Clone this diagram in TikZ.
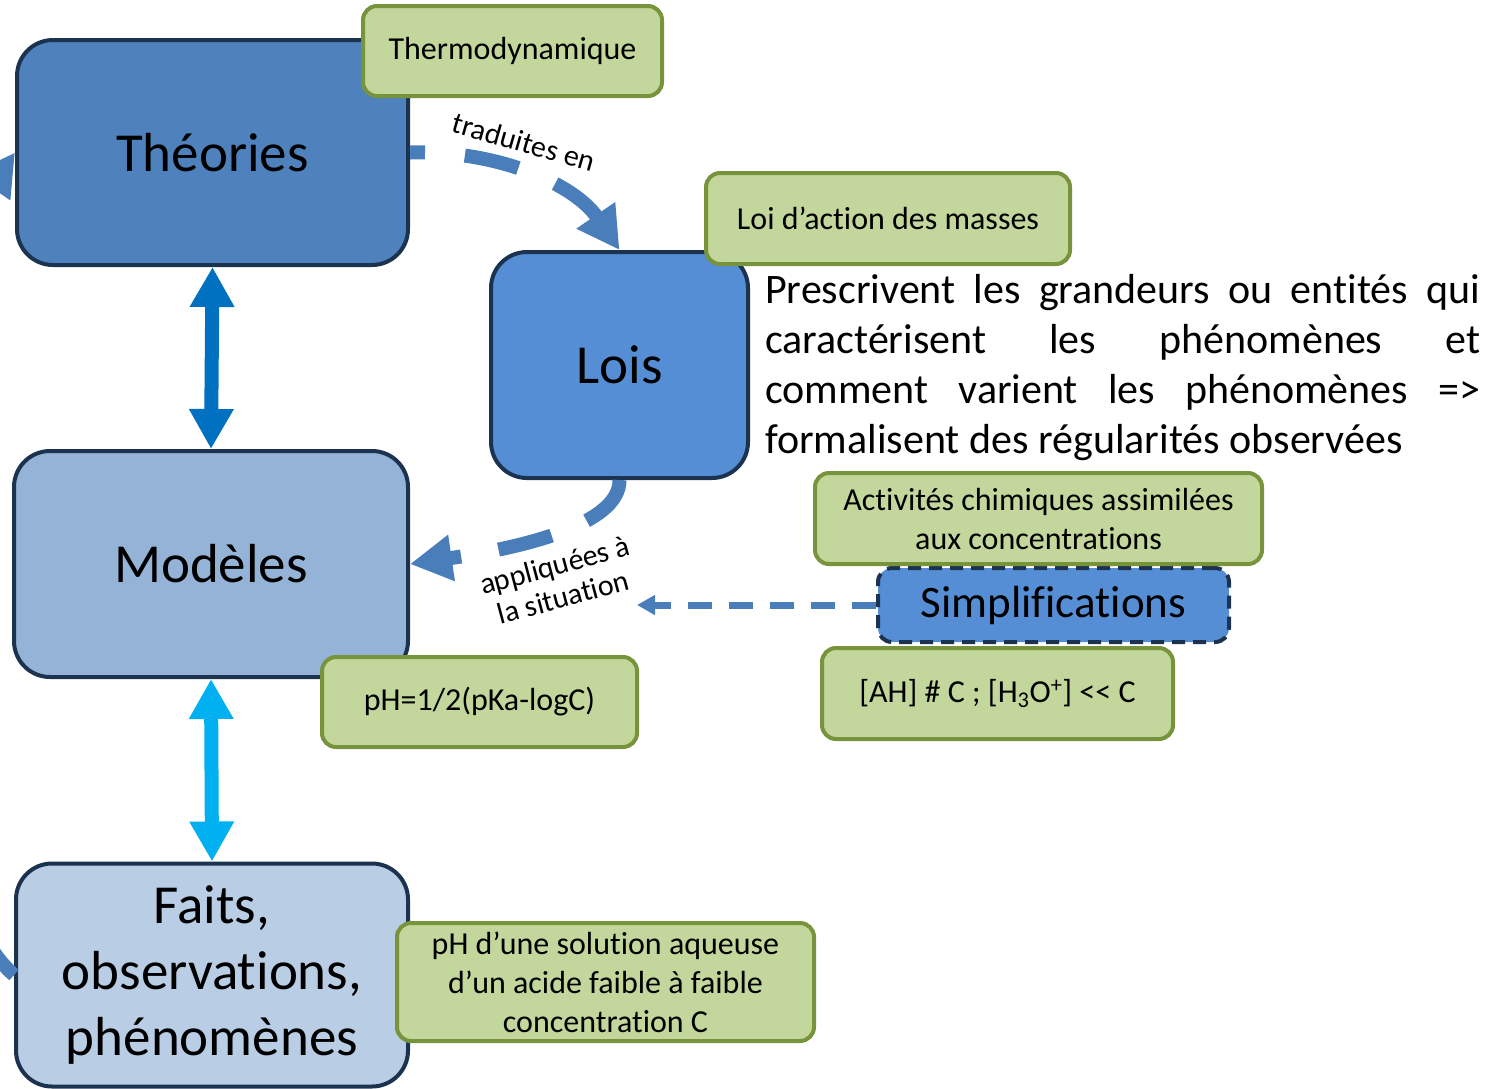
\documentclass[tikz,border=0pt]{standalone}
\usepackage{fontspec}
\setmainfont{Carlito}[Ligatures=NoCommon]
\usetikzlibrary{arrows.meta}
\definecolor{theofill}{HTML}{4F81BD}
\definecolor{loisfill}{HTML}{558ED5}
\definecolor{modfill}{HTML}{95B3D7}
\definecolor{faitsfill}{HTML}{B9CDE5}
\definecolor{boxline}{HTML}{1C3350}
\definecolor{tagfill}{HTML}{C3D69B}
\definecolor{tagline}{HTML}{77933C}
\definecolor{flowcol}{HTML}{4A7EBB}
\definecolor{linkdark}{HTML}{0070C0}
\definecolor{linklight}{HTML}{00B0F0}
\newcommand*{\bigtxt}{\fontsize{55}{66}\selectfont}
\newcommand*{\tagtxt}{\fontsize{32}{39}\selectfont}
\newcommand*{\fullline}[1]{\makebox[715pt][s]{#1}}

\begin{document}
\begin{tikzpicture}[x=1pt,y=-1pt,
        bigbox/.style={draw=boxline,line width=4pt,rounded corners=36pt,font=\bigtxt,align=center,inner sep=0pt},
        tag/.style={draw=tagline,fill=tagfill,line width=4pt,rounded corners=14pt,font=\tagtxt,align=center,inner sep=0pt},
        flow/.style={draw=flowcol,line width=14pt,-{Triangle[length=42pt,width=44pt]}},
        twoway/.style={line width=14pt,{Triangle[length=40pt,width=42pt]}-{Triangle[length=40pt,width=42pt]}},
        lbl/.style={font=\fontsize{30}{33}\selectfont,align=center,inner sep=0pt}]
                \useasboundingbox (0,0) rectangle (1488,1088);
                \clip (0,0) rectangle (1488,1088);

                \node[bigbox,fill=theofill,minimum width=391pt,minimum height=225pt] (theo) at (212.5,152.5) {Théories};
                \node[tag,minimum width=299pt,minimum height=90pt] (thermo) at (512.5,51) {Thermodynamique};

                \node[bigbox,fill=loisfill,minimum width=257pt,minimum height=226pt] (lois) at (619.5,365) {Lois};
                \node[tag,minimum width=364pt,minimum height=91pt] (loi) at (888,218.5) {Loi d’action des masses};

                \node[anchor=north west,inner sep=0pt,text width=715pt,align=left,font=\fontsize{42}{50}\selectfont] (para) at (765,274)
                    {\spaceskip=0pt\xspaceskip=0pt
                     \fullline{Prescrivent les grandeurs ou entités qui}\\
                     \fullline{caractérisent les phénomènes et}\\
                     \fullline{comment varient les phénomènes =>}\\
                     formalisent des régularités observées};

                \node[bigbox,fill=modfill,minimum width=394pt,minimum height=226pt] (mod) at (211,564) {Modèles};
                \node[tag,minimum width=315pt,minimum height=90pt] (pha) at (479.5,702) {pH=1/2(pKa-logC)};

                \node[bigbox,fill=faitsfill,minimum width=392pt,minimum height=223pt] (faits) at (212,975) {Faits,\\observations,\\phénomènes};
                \node[tag,minimum width=417pt,minimum height=118pt] (phsol) at (605.5,982)
                    {pH d’une solution aqueuse\\d’un acide faible à faible\\concentration C};

                \node[bigbox,fill=loisfill,rounded corners=14pt,dash pattern=on 13pt off 8pt,font=\fontsize{45}{54}\selectfont,minimum width=351pt,minimum height=74pt] (simp) at (1053.5,605) {Simplifications};
                \node[tag,minimum width=447pt,minimum height=91pt] (activ) at (1038.5,518.5) {Activités chimiques assimilées\\aux concentrations};
                \node[tag,minimum width=351pt,minimum height=91pt] (ah) at (997.5,693.5)
                    {[AH] \# C ; [H\textsubscript{3}O\textsuperscript{+}] <{}< C};

                \draw[twoway,draw=linkdark,fill=linkdark] (theo.south) -- (mod.north);
                \draw[twoway,draw=linklight,fill=linklight] (mod.south) -- (faits.north);

                \draw[flow,dash pattern=on 55pt off 40pt,dash phase=40pt] (theo.east) .. controls (500,150) and (575,185) .. (lois.north);
                \node[lbl,rotate=-16] (tradlbl) at (524,142) {traduites en};

                \draw[flow,dash pattern=on 55pt off 38pt] (lois.south) .. controls (620,525) and (520,548) .. (mod.east);
                \node[lbl,rotate=15] (applbl) at (559,581) {appliquées à\\la situation};

                \coordinate (simpend) at (637,605);
                \draw[draw=flowcol,line width=7pt,dash pattern=on 24pt off 17pt,-{Triangle[length=18pt,width=19pt]}] (simp.west) -- (simpend);

                \draw[flow] (faits.west) .. controls (-120,860) and (-60,260) .. (theo.west);
            \end{tikzpicture}
\end{document}
